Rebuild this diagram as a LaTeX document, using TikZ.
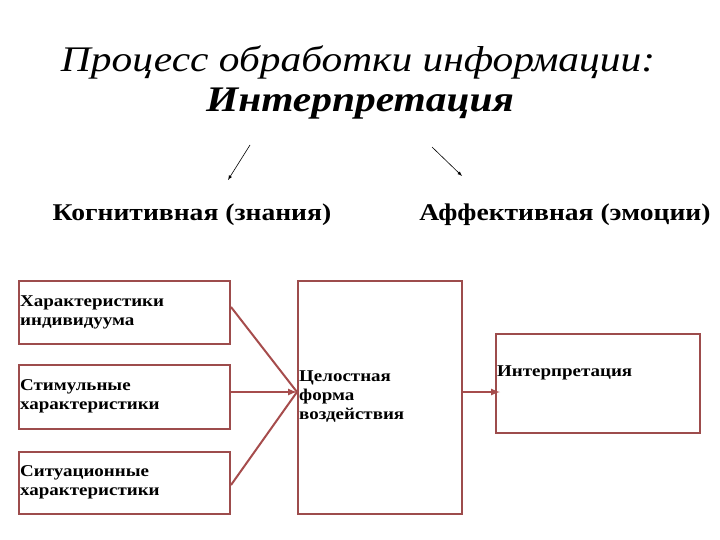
\documentclass[tikz,border=0pt]{standalone}
\usepackage{fontspec}
\setmainfont[FakeStretch=1.15]{Liberation Serif}
\begin{document}
\begin{tikzpicture}[x=1pt,y=-1pt,
  bx/.style={draw=red!45!black!70, line width=1.3pt},
  lbl/.style={font=\bfseries\fontsize{16.5}{19}\selectfont, align=left, anchor=west, inner sep=0},
  con/.style={draw=red!50!black!70, line width=2pt},
  ar/.style={-latex, line width=0.6pt}]
\useasboundingbox (0,0) rectangle (720,540);
\node (t1) at (358,62) {\itshape\fontsize{36}{40}\selectfont Процесс обработки информации:};
\node (t2) at (360,104) {\bfseries\itshape\fontsize{36}{40}\selectfont Интерпретация};
\coordinate (a1s) at (250,145); \coordinate (a1e) at (228,180);
\coordinate (a2s) at (432,147); \coordinate (a2e) at (462,176);
\draw[ar] (a1s) -- (a1e);
\draw[ar] (a2s) -- (a2e);
\node (k) at (192,215) {\bfseries\fontsize{24}{28}\selectfont Когнитивная (знания)};
\node (af) at (565,215) {\bfseries\fontsize{24}{28}\selectfont Аффективная (эмоции)};
\draw[bx] (19,281) rectangle (230,344);
\draw[bx] (19,365) rectangle (230,429);
\draw[bx] (19,452) rectangle (230,514);
\draw[bx] (298,281) rectangle (462,514);
\draw[bx] (496,334) rectangle (700,433);
\node[lbl] (b1) at (20,312) {Характеристики\\индивидуума};
\node[lbl] (b2) at (20,396) {Стимульные\\характеристики};
\node[lbl] (b3) at (20,482) {Ситуационные\\характеристики};
\node[lbl] (m) at (299,397) {Целостная\\форма\\воздействия};
\node[lbl] (r) at (497,373) {Интерпретация};
\coordinate (c1) at (231,307); \coordinate (c2) at (231,392); \coordinate (c3) at (231,485);
\coordinate (cm) at (297,392);
\draw[con] (c1) -- (cm);
\draw[con,-latex] (c2) -- (cm);
\draw[con] (c3) -- (cm);
\coordinate (o1) at (463,392); \coordinate (o2) at (500,392);
\draw[con,-latex] (o1) -- (o2);
\end{tikzpicture}
\end{document}
